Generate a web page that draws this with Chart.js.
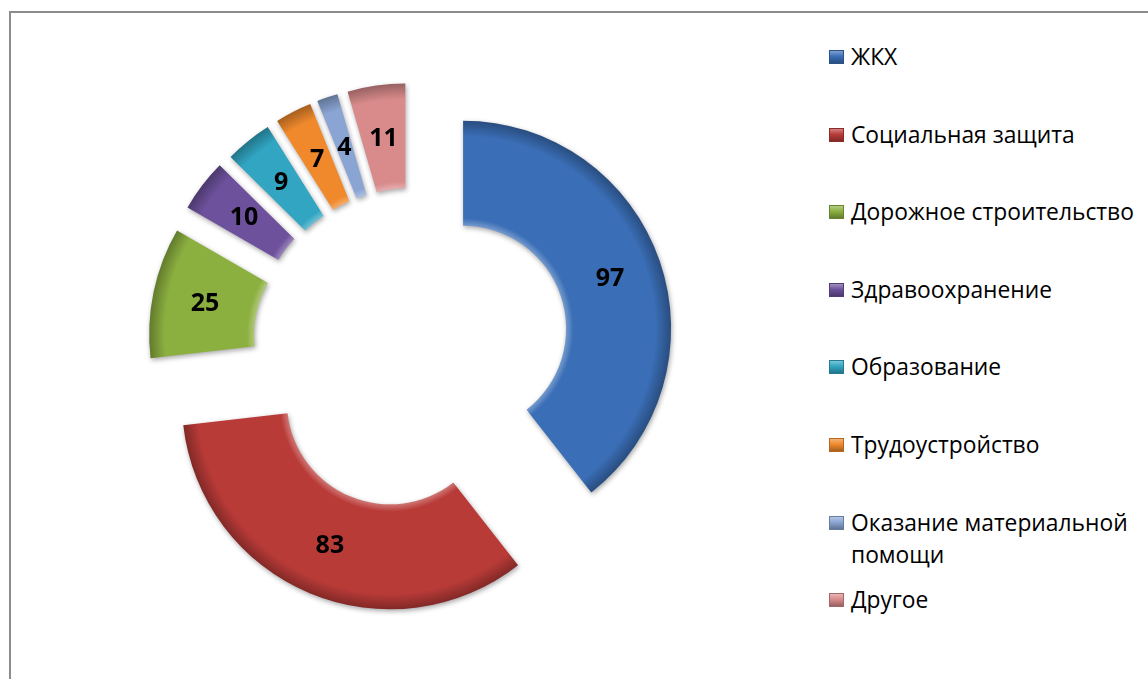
<!DOCTYPE html>
<html>
<head>
<meta charset="utf-8">
<script src="https://cdn.jsdelivr.net/npm/chart.js@4/dist/chart.umd.min.js"></script>
<style>
    html, body { margin: 0; padding: 0; background: #fff; }
    body { width: 1148px; height: 679px; overflow: hidden; position: relative; font-family: 'Open Sans', sans-serif; }
    #frame { position: absolute; left: 9px; top: 11px; width: 1200px; height: 700px; border-left: 2px solid #8c8c8c; border-top: 2px solid #8c8c8c; }
    #chartBox { position: absolute; left: 113px; top: 46px; width: 600px; height: 600px; }
    #legend { position: absolute; left: 829px; top: 41px; margin: 0; padding: 0; list-style: none; }
    #legend li { height: 77.6px; display: flex; align-items: flex-start; font-size: 22.8px; line-height: 32px; color: #000; }
    #legend .box { width: 15px; height: 14px; margin-top: 9px; margin-right: 7px; flex: none; box-sizing: border-box; }
    #legend .txt { width: 296px; }
</style>
</head>
<body>
<div id="frame"></div>
<div id="chartBox"><canvas id="donut"></canvas></div>
<ul id="legend"></ul>
<script>
const labels = ['ЖКХ', 'Социальная защита', 'Дорожное строительство', 'Здравоохранение', 'Образование', 'Трудоустройство', 'Оказание материальной помощи', 'Другое'];
const values = [97, 83, 25, 10, 9, 7, 4, 11];
const colors = ['#3a6eb6', '#b93b38', '#8cb040', '#6d519c', '#31a5c2', '#ef892c', '#8aa5d4', '#d98b8b'];
// how far each slice is pulled out, px
const explode = [53, 60, 57, 57, 55, 55, 55, 55];

const OUTER = 208;
const CUTOUT = 0.495;

function shade(hex, k) {
    // k > 0 -> towards white, k < 0 -> towards black
    const n = parseInt(hex.slice(1), 16);
    let r = n >> 16, g = (n >> 8) & 255, b = n & 255;
    const t = k > 0 ? 255 : 0, a = Math.abs(k);
    r = Math.round(r + (t - r) * a);
    g = Math.round(g + (t - g) * a);
    b = Math.round(b + (t - b) * a);
    return `rgb(${r},${g},${b})`;
}

// legend
const ul = document.getElementById('legend');
labels.forEach((lab, i) => {
    const li = document.createElement('li');
    const box = document.createElement('span');
    box.className = 'box';
    box.style.background = `linear-gradient(to bottom, ${shade(colors[i], 0.35)} 0%, ${colors[i]} 45%, ${shade(colors[i], -0.3)} 100%)`;
    box.style.border = '1px solid ' + shade(colors[i], -0.25);
    const txt = document.createElement('span');
    txt.className = 'txt';
    txt.textContent = lab;
    li.appendChild(box);
    li.appendChild(txt);
    ul.appendChild(li);
});

// draws each arc shifted outwards along its middle angle, then the values
const explodePlugin = {
    id: 'explode',
    beforeDatasetDraw(chart, args) {
        const ctx = chart.ctx;
        const meta = args.meta;
        meta.data.forEach((arc, i) => {
            const mid = (arc.startAngle + arc.endAngle) / 2;
            ctx.save();
            ctx.translate(Math.cos(mid) * explode[i], Math.sin(mid) * explode[i]);
            ctx.shadowColor = 'rgba(0,0,0,0.35)';
            ctx.shadowBlur = 5;
            ctx.shadowOffsetX = 1;
            ctx.shadowOffsetY = 2;
            arc.draw(ctx);
            ctx.restore();
        });
        return false;
    },
    afterDatasetsDraw(chart) {
        const ctx = chart.ctx;
        const meta = chart.getDatasetMeta(0);
        ctx.save();
        ctx.font = 'bold 25px "Open Sans", sans-serif';
        ctx.fillStyle = '#000';
        ctx.textAlign = 'center';
        ctx.textBaseline = 'middle';
        meta.data.forEach((arc, i) => {
            const mid = (arc.startAngle + arc.endAngle) / 2;
            const r = explode[i] + (arc.innerRadius + arc.outerRadius) / 2;
            ctx.fillText(String(values[i]), arc.x + Math.cos(mid) * r, arc.y + Math.sin(mid) * r + 1);
        });
        ctx.restore();
    }
};

const ctx = document.getElementById('donut').getContext('2d');
const chart = new Chart(ctx, {
    type: 'doughnut',
    data: {
        labels: labels,
        datasets: [{
            data: values,
            radius: OUTER,
            cutout: (CUTOUT * 100) + '%',
            borderWidth: 0,
            backgroundColor: (c) => {
                const area = c.chart.chartArea;
                const base = colors[c.dataIndex];
                if (!area) return base;
                const cx = (area.left + area.right) / 2;
                const cy = (area.top + area.bottom) / 2;
                const g = c.chart.ctx.createRadialGradient(cx, cy, OUTER * CUTOUT, cx, cy, OUTER);
                g.addColorStop(0, shade(base, 0.3));
                g.addColorStop(0.07, base);
                g.addColorStop(0.85, base);
                g.addColorStop(1, shade(base, -0.3));
                return g;
            }
        }]
    },
    options: {
        responsive: true,
        maintainAspectRatio: false,
        animation: false,
        layout: { padding: 0 },
        plugins: {
            legend: { display: false },
            tooltip: { enabled: false }
        }
    },
    plugins: [explodePlugin]
});
</script>
</body>
</html>
